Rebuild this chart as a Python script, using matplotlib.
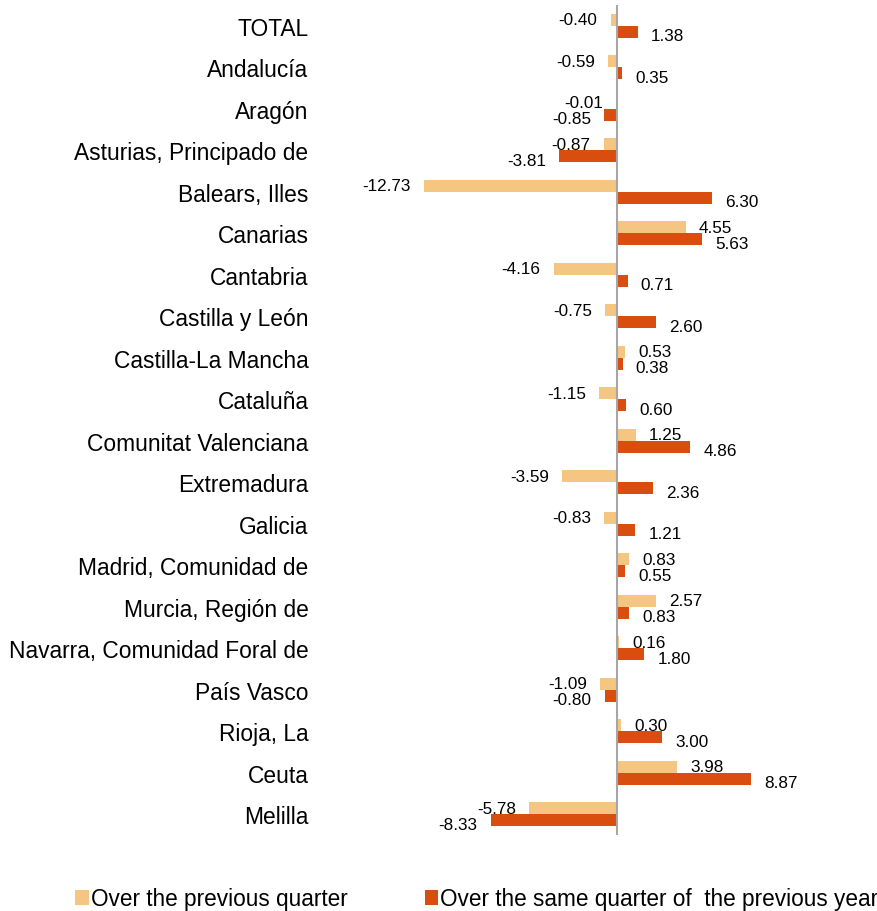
import matplotlib.pyplot as plt
import numpy as np

plt.rcParams['font.family'] = ['Liberation Sans', 'DejaVu Sans']

regions = ['TOTAL', 'Andalucía', 'Aragón', 'Asturias, Principado de', 'Balears, Illes',
           'Canarias', 'Cantabria', 'Castilla y León', 'Castilla-La Mancha', 'Cataluña',
           'Comunitat Valenciana', 'Extremadura', 'Galicia', 'Madrid, Comunidad de',
           'Murcia, Región de', 'Navarra, Comunidad Foral de', 'País Vasco', 'Rioja, La',
           'Ceuta', 'Melilla']
prev_quarter = [-0.40, -0.59, -0.01, -0.87, -12.73, 4.55, -4.16, -0.75, 0.53, -1.15,
                1.25, -3.59, -0.83, 0.83, 2.57, 0.16, -1.09, 0.30, 3.98, -5.78]
prev_year = [1.38, 0.35, -0.85, -3.81, 6.30, 5.63, 0.71, 2.60, 0.38, 0.60,
             4.86, 2.36, 1.21, 0.55, 0.83, 1.80, -0.80, 3.00, 8.87, -8.33]
series_names = ['Over the previous quarter', 'Over the same quarter of  the previous year']

c_light = '#F5C582'
c_dark = '#D94E0F'

fig = plt.figure(figsize=(8.78, 9.12), dpi=100)
ax = fig.add_axes([314 / 878, 1 - 836 / 912, (844 - 314) / 878, (836 - 6) / 912])

y = np.arange(len(regions))
h = 0.29
ax.barh(y - h / 2, prev_quarter, height=h, color=c_light, label=series_names[0])
ax.barh(y + h / 2, prev_year, height=h, color=c_dark, label=series_names[1])

ax.set_xlim(-20, 15)
ax.set_ylim(len(regions) - 0.5, -0.5)
ax.axvline(0, color='#A6A6A6', lw=1.5)

for spine in ax.spines.values():
    spine.set_visible(False)
ax.set_xticks([])
ax.set_yticks(y)
ax.set_yticklabels(regions, fontsize=16.4)
ax.tick_params(axis='y', length=0, pad=4)

# etiquetas de valores
for vals, yy, dy in [(prev_quarter, y - h / 2, 0), (prev_year, y + h / 2, -3)]:
    for v, yi in zip(vals, yy):
        dx = 9.5 if v >= 0 else -9.5
        ax.annotate(f'{v:.2f}', (v, yi), xytext=(dx, dy), textcoords='offset points',
                    ha='left' if v >= 0 else 'right', va='center', fontsize=12.3)

fig.legend(loc='center', bbox_to_anchor=(0.543, 1 - 900 / 912), ncol=2, frameon=False,
           fontsize=16.3, handlelength=0.6, handleheight=0.6, handletextpad=0.1,
           columnspacing=3.4)

fig.savefig('out.png', dpi=100)
